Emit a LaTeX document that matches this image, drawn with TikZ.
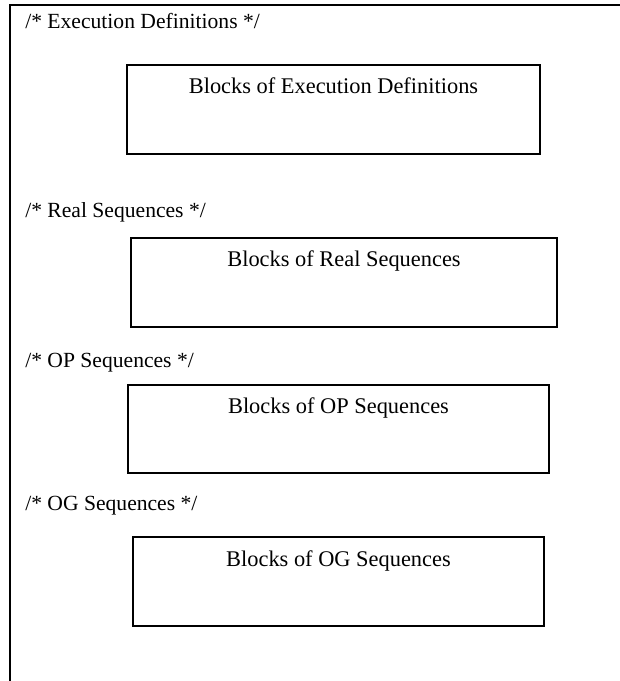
\documentclass[tikz,border=0pt]{standalone}
\usepackage{fontspec}
\setmainfont{Liberation Serif}
\usetikzlibrary{positioning}

\begin{document}
\begin{tikzpicture}[
    x=0.75pt, y=-0.75pt,
    comment/.style={anchor=base west, inner sep=0pt, font=\fontsize{16.2}{19}\selectfont},
    blockbox/.style={rectangle, draw, line width=1.1pt, inner sep=0pt},
    blocktext/.style={anchor=base, inner sep=0pt, font=\fontsize{16.8}{20}\selectfont}
]
\useasboundingbox (0,0) rectangle (620,681);
% open outer frame
\coordinate (topright) at (620,5);
\coordinate (corner) at (10,5);
\coordinate (bottomleft) at (10,681);
\draw[line width=1.1pt] (topright) -- (corner) -- (bottomleft);

\node[comment] (cexec) at (25,29) {/* Execution Definitions */};
\node[blockbox, minimum width=413*0.75pt, minimum height=89*0.75pt] (execbox) at (333.5,109.5) {};
\node[blocktext] (exectext) at ([yshift=-29*0.75pt]execbox.north) {Blocks of Execution Definitions};

\node[comment] (creal) at (25,217) {/* Real Sequences */};
\node[blockbox, minimum width=426*0.75pt, minimum height=89*0.75pt] (realbox) at (344,282.5) {};
\node[blocktext] (realtext) at ([yshift=-29*0.75pt]realbox.north) {Blocks of Real Sequences};

\node[comment] (cop) at (25,367) {/* OP Sequences */};
\node[blockbox, minimum width=421*0.75pt, minimum height=88*0.75pt] (opbox) at (338.5,429) {};
\node[blocktext] (optext) at ([yshift=-29*0.75pt]opbox.north) {Blocks of OP Sequences};

\node[comment] (cog) at (25,510) {/* OG Sequences */};
\node[blockbox, minimum width=411*0.75pt, minimum height=89*0.75pt] (ogbox) at (338.5,581.5) {};
\node[blocktext] (ogtext) at ([yshift=-30*0.75pt]ogbox.north) {Blocks of OG Sequences};
\end{tikzpicture}
\end{document}
